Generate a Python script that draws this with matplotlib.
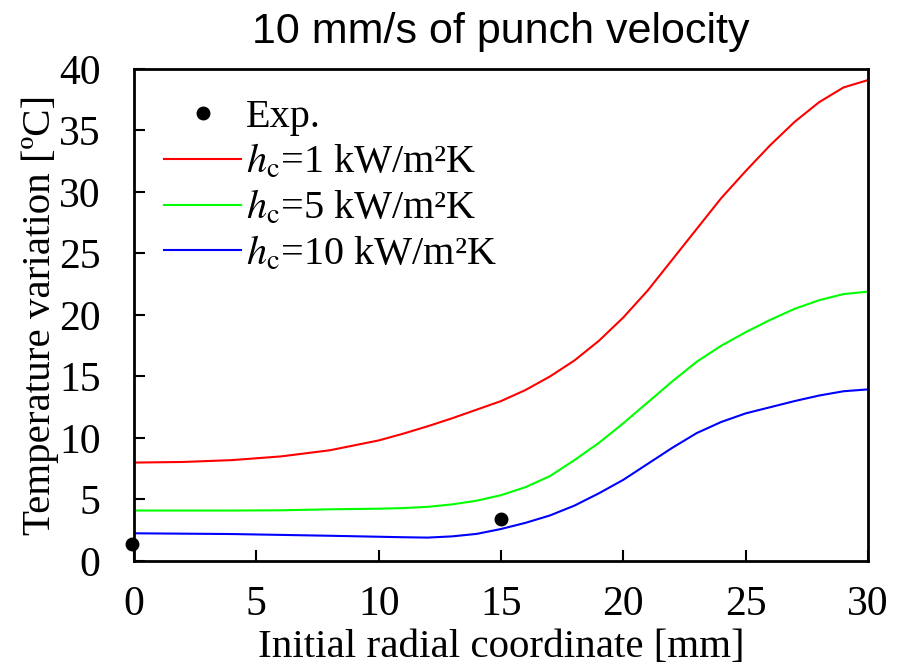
import matplotlib
matplotlib.use("Agg")
import matplotlib.pyplot as plt

# ── data ─────────────────────────────────────────────────────────────
exp_x = [-0.1, 15.0]
exp_y = [1.4, 3.4]

x_sim = [0, 2, 4, 6, 8, 10, 11, 12, 13, 14, 15, 16, 17, 18, 19, 20,
         21, 22, 23, 24, 25, 26, 27, 28, 29, 30]
hc1_y = [8.0, 8.05, 8.2, 8.5, 9.0, 9.8, 10.35, 10.95, 11.6, 12.3, 13.0, 13.9, 15.0, 16.3, 17.9, 19.8,
         22.0, 24.5, 27.0, 29.5, 31.7, 33.8, 35.7, 37.3, 38.5, 39.1]
hc5_y = [4.1, 4.1, 4.1, 4.12, 4.2, 4.25, 4.3, 4.4, 4.6, 4.9, 5.35, 6.0, 6.9, 8.2, 9.6, 11.2,
         12.9, 14.6, 16.2, 17.5, 18.6, 19.6, 20.5, 21.2, 21.7, 21.9]
hc10_y = [2.25, 2.22, 2.19, 2.12, 2.05, 1.97, 1.93, 1.9, 2.0, 2.2, 2.6, 3.1, 3.7, 4.5, 5.5, 6.6,
          7.9, 9.2, 10.4, 11.3, 12.0, 12.5, 13.0, 13.45, 13.8, 13.95]

xticks = [0, 5, 10, 15, 20, 25, 30]
yticks = [0, 5, 10, 15, 20, 25, 30, 35, 40]

plt.rcParams["font.family"] = ["Liberation Serif", "DejaVu Serif"]
plt.rcParams["mathtext.fontset"] = "stix"

fig = plt.figure(figsize=(9.02, 6.66), dpi=100)
ax = fig.add_axes([0.1486, 0.1577, 0.8137, 0.7387])

ax.plot(exp_x, exp_y, "o", color="black", ms=9, clip_on=False, label="Exp.", zorder=5)
ax.plot(x_sim, hc1_y, color="#FF0000", lw=1.5, label=r"$h_\mathrm{c}$=1 kW/m²K")
ax.plot(x_sim, hc5_y, color="#00FF00", lw=1.5, label=r"$h_\mathrm{c}$=5 kW/m²K")
ax.plot(x_sim, hc10_y, color="#0000FF", lw=1.5, label=r"$h_\mathrm{c}$=10 kW/m²K")

ax.set_xlim(0, 30)
ax.set_ylim(0, 40)
ax.set_xticks(xticks)
ax.set_yticks(yticks)
ax.tick_params(direction="in", length=8, width=1.5, labelsize=30)
ax.tick_params(axis="x", pad=18)
ax.tick_params(axis="y", pad=24)
for sp in ax.spines.values():
    sp.set_linewidth(2)

ax.set_xlabel("Initial radial coordinate [mm]", fontsize=29.5, labelpad=3)
ax.set_ylabel("Temperature variation [ºC]", fontsize=29.5, labelpad=0)
ax.set_title("10 mm/s of punch velocity", fontsize=31,
             family=["Liberation Sans", "DejaVu Sans"], pad=19)

ax.legend(loc="upper left", frameon=False, fontsize=29, handlelength=1.9,
          handletextpad=0.12, labelspacing=0.18, borderaxespad=0.45,
          borderpad=0.3)

fig.savefig("out.png", dpi=100)
